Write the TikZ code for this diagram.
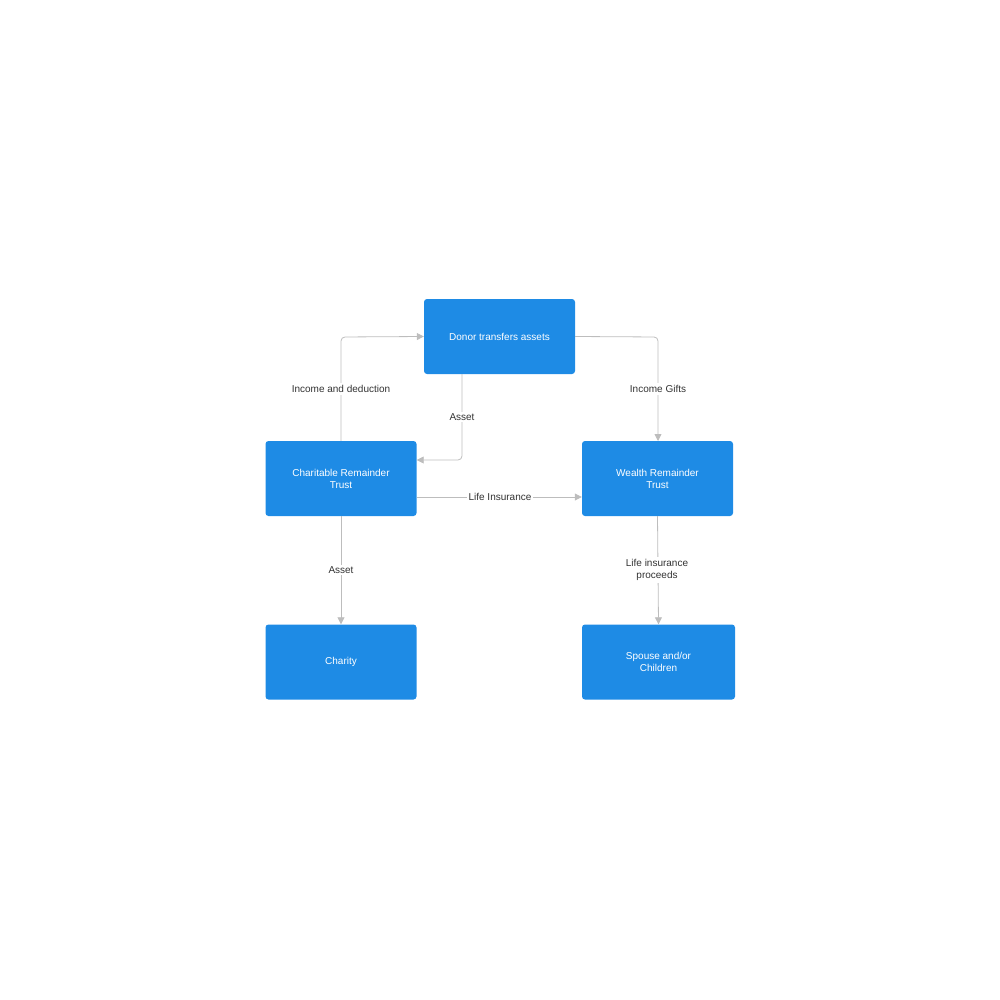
\documentclass[tikz,border=0pt]{standalone}
\usepackage{fontspec}
\setmainfont{Liberation Sans}
\usetikzlibrary{arrows.meta}
\definecolor{boxblue}{HTML}{1E8BE5}
\definecolor{linegray}{HTML}{BDBDBD}
\definecolor{labelgray}{HTML}{333333}
\begin{document}
\begin{tikzpicture}[
    x=1pt, y=-1pt,
    module/.style={rectangle, fill=boxblue, rounded corners=3pt, minimum width=151pt, minimum height=75pt, text=white, font=\fontsize{10}{12}\selectfont, align=center, inner sep=2pt},
    arrow/.style={-{Triangle[width=7pt,length=7pt]}, draw=linegray, line width=0.8pt, rounded corners=4pt},
    lbl/.style={fill=white, text=labelgray, font=\fontsize{10}{12}\selectfont, align=center, inner sep=2pt}
]
\useasboundingbox (0,0) rectangle (1000,1000);
% Boxes
\node[module] (donor) at (499.5,336.5) {Donor transfers assets};
\node[module] (crt) at (341,478.5) {Charitable Remainder\\Trust};
\node[module] (wrt) at (657.5,478.5) {Wealth Remainder\\Trust};
\node[module] (charity) at (341,662) {Charity};
\node[module, minimum width=153pt] (spouse) at (658.5,662) {Spouse and/or\\Children};

% Arrows
\draw[arrow] (crt.north) -- (341,337) -- (donor.west);
\draw[arrow] (462,374) -- (462,460) -- (crt.east |- 0,460);
\draw[arrow] (donor.east) -- (658,337) -- (658,441);
\draw[arrow] (crt.east |- 0,497) -- (wrt.west |- 0,497);
\draw[arrow] (crt.south) -- (charity.north);
\draw[arrow] (wrt.south) -- (spouse.north);

% Labels
\node[lbl] (l1) at (341,389) {Income and deduction};
\node[lbl] (l2) at (462,417) {Asset};
\node[lbl] (l3) at (658,389) {Income Gifts};
\node[lbl] (l4) at (500,497) {Life Insurance};
\node[lbl] (l5) at (341,570) {Asset};
\node[lbl] (l6) at (657,570) {Life insurance\\proceeds};
\end{tikzpicture}
\end{document}
